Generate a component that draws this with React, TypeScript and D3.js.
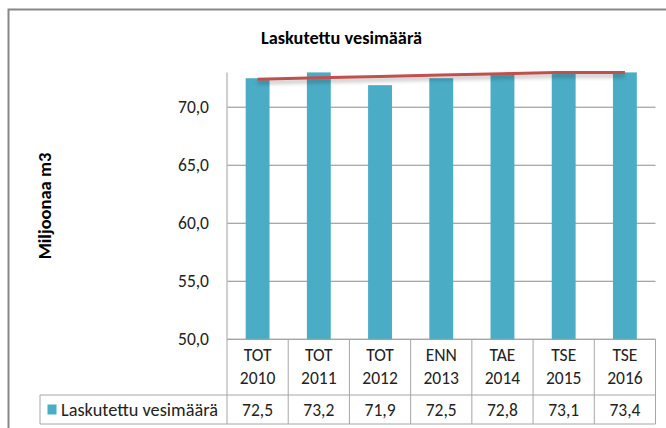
import React from "react";
import * as d3 from "d3";

const categoriesTop = ["TOT", "TOT", "TOT", "ENN", "TAE", "TSE", "TSE"];
const categoriesYear = ["2010", "2011", "2012", "2013", "2014", "2015", "2016"];
const values = [72.5, 73.2, 71.9, 72.5, 72.8, 73.1, 73.4];
const yTicks = [50, 55, 60, 65, 70];
const seriesName = "Laskutettu vesimäärä";
const title = "Laskutettu vesimäärä";
const yTitle = "Miljoonaa m3";

const W = 666;
const H = 428;
const FONT = "Carlito, Calibri, 'Open Sans', sans-serif";
const FS = 17.5;

export default function App() {
  const left = 227;
  const right = 655.5;
  const top = 72.4;
  const bottom = 339.3;
  const idx = values.map((_, i) => i);
  const x = d3.scaleBand<number>().domain(idx).range([left, right]).paddingInner(0).paddingOuter(0);
  const bw = x.bandwidth();
  const barW = bw * 0.39;
  const y = d3.scaleLinear().domain([50, 73]).range([bottom, top]).clamp(true);

  // linear trendline
  const n = values.length;
  const xs = idx.map((i) => i + 1);
  const mx = d3.mean(xs)!;
  const my = d3.mean(values)!;
  const slope =
    d3.sum(xs.map((v, i) => (v - mx) * (values[i] - my))) / d3.sum(xs.map((v) => (v - mx) ** 2));
  const intercept = my - slope * mx;
  const trendPts: [number, number][] = [];
  const cross = (73 - intercept) / slope;
  const samples = xs.slice();
  if (cross > 1 && cross < n) samples.push(cross);
  samples.sort((a, b) => a - b);
  samples.forEach((t) => {
    const cx = left + (t - 0.5) * bw;
    trendPts.push([cx, y(intercept + slope * t)]);
  });
  const line = d3.line();

  const legendTop = 395;
  const legendBottom = 424;
  const legendLeft = 40;
  const gridColor = "#8c8c8c";
  const tableColor = "#a6a6a6";

  return (
    <svg width={W} height={H} style={{ display: "block", position: "absolute", left: 0, top: 0 }}>
      <defs>
        <filter id="shadow" x="-10%" y="-200%" width="120%" height="500%">
          <feDropShadow dx="0" dy="3" stdDeviation="2" floodColor="#000" floodOpacity="0.3" />
        </filter>
      </defs>
      <rect x={0} y={0} width={W} height={H} fill="#fff" />
      <path d={`M8.5,${H + 5} L8.5,9.5 L${W + 5},9.5`} fill="none" stroke="#878787" strokeWidth={2} />

      <text x={341.5} y={38} dy="0.35em" textAnchor="middle" fontFamily={FONT} fontWeight="bold" fontSize={18.3} fill="#000">
        {title}
      </text>

      <text
        transform={`translate(45,206) rotate(-90)`}
        dy="0.35em"
        textAnchor="middle"
        fontFamily={FONT}
        fontWeight="bold"
        fontSize={18.5}
        fill="#000"
      >
        {yTitle}
      </text>

      {yTicks.map((t) => (
        <g key={t}>
          <line x1={left} x2={right} y1={y(t)} y2={y(t)} stroke={gridColor} strokeWidth={1} />
          <text x={209} y={y(t)} dy="0.35em" textAnchor="end" fontFamily={FONT} fontSize={FS} fill="#222">
            {d3.format(".1f")(t).replace(".", ",")}
          </text>
        </g>
      ))}

      {values.map((v, i) => (
        <rect
          key={i}
          x={x(i)! + (bw - barW) / 2}
          y={y(v)}
          width={barW}
          height={y(50) - y(v)}
          fill="#4bacc6"
        />
      ))}

      <line x1={left} x2={left} y1={top} y2={bottom} stroke="#bfbfbf" strokeWidth={1.5} />

      <path
        d={line(trendPts) || ""}
        fill="none"
        stroke="#c0504d"
        strokeWidth={3}
        filter="url(#shadow)"
      />

      <g fill="none" stroke={tableColor} strokeWidth={1}>
        <line x1={left} x2={right} y1={bottom} y2={bottom} />
        <line x1={legendLeft} x2={right} y1={legendTop} y2={legendTop} />
        <line x1={legendLeft} x2={right} y1={legendBottom} y2={legendBottom} />
        <line x1={legendLeft} x2={legendLeft} y1={legendTop} y2={legendBottom} />
        {idx.map((i) => (
          <line key={i} x1={x(i)!} x2={x(i)!} y1={bottom} y2={legendBottom} />
        ))}
        <line x1={right} x2={right} y1={bottom} y2={legendBottom} />
      </g>
      {idx.map((i) => {
        const cx = x(i)! + bw / 2;
        return (
          <g key={i} fontFamily={FONT} fontSize={FS} fill="#222" textAnchor="middle">
            <text x={cx} y={355} dy="0.35em">
              {categoriesTop[i]}
            </text>
            <text x={cx} y={378} dy="0.35em">
              {categoriesYear[i]}
            </text>
            <text x={cx} y={410} dy="0.35em">
              {d3.format(".1f")(values[i]).replace(".", ",")}
            </text>
          </g>
        );
      })}
      <rect x={47.5} y={404.5} width={9} height={10} fill="#4bacc6" />
      <text x={61} y={410} dy="0.35em" fontFamily={FONT} fontSize={18.3} fill="#222">
        {seriesName}
      </text>
    </svg>
  );
}
